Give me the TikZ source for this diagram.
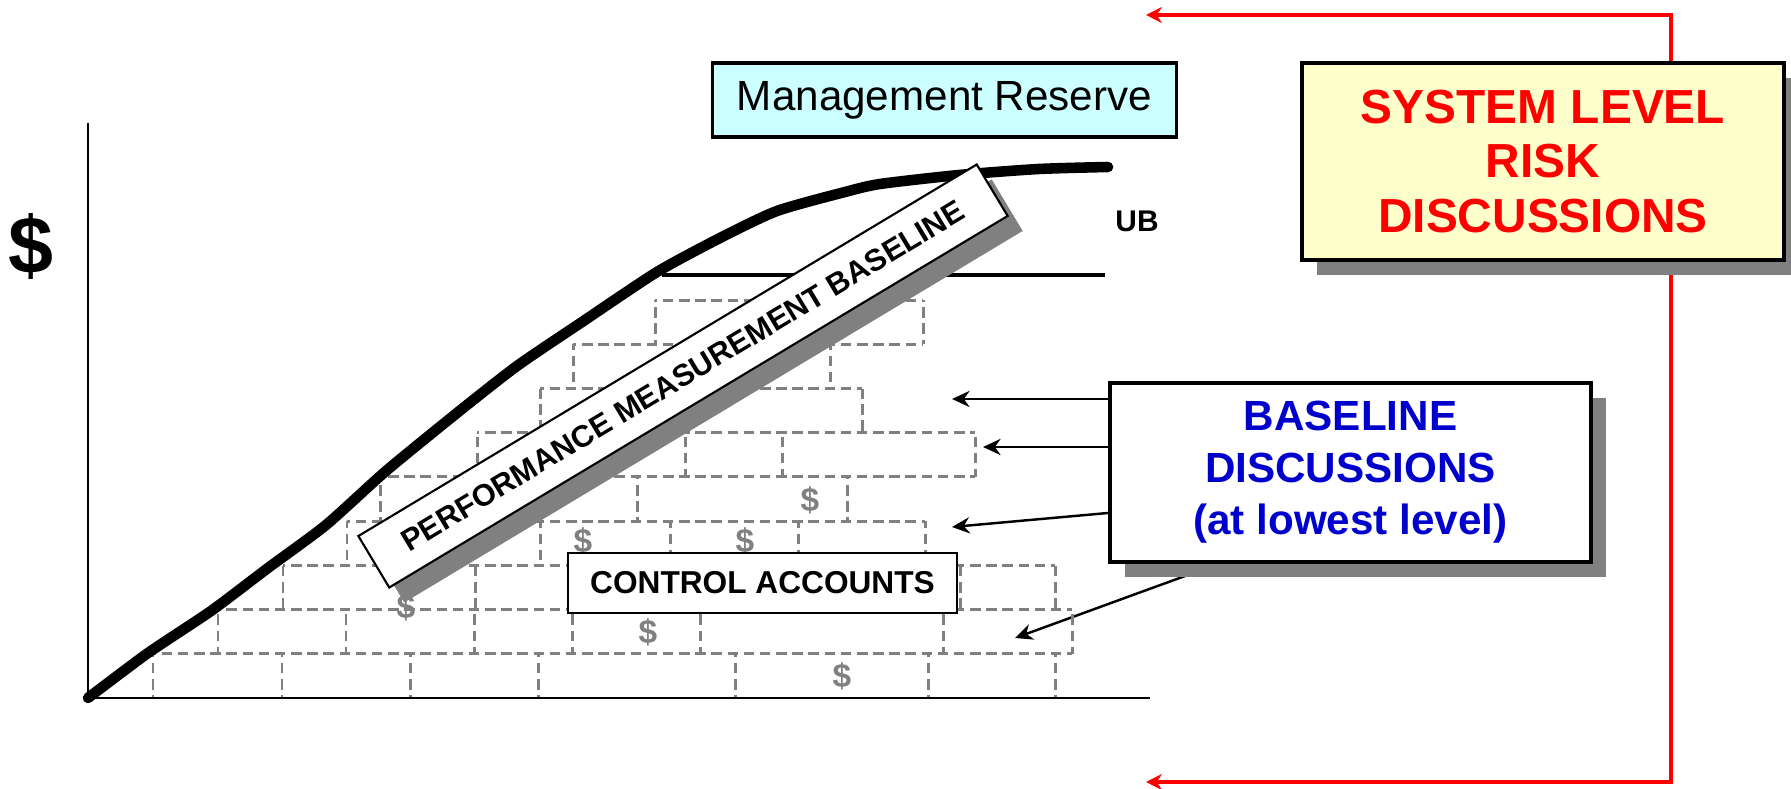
\documentclass[tikz,border=0pt]{standalone}
\usepackage{fontspec}
\setmainfont{Liberation Sans}
\usepackage{tikz}
\usetikzlibrary{arrows.meta,shadows,backgrounds}
\definecolor{riskred}{HTML}{FF0000}
\definecolor{baseblue}{HTML}{0000CC}
\definecolor{mrcyan}{HTML}{CCFFFF}
\definecolor{riskyellow}{HTML}{FFFFCC}
\definecolor{brickgray}{HTML}{808080}
\newcommand{\fsz}[2]{\fontsize{#1}{#2}\selectfont}
% one course of the wall; #1 = course (0 at the bottom), #2 = left/right edges.
% Edges are drawn one way only and the dash phase is tied to the position,
% so that shared edges of neighbouring bricks stay dashed.
\newcommand{\brickrow}[2]{%
  \pgfmathsetmacro{\ytop}{698-44.2*(#1+1)}%
  \pgfmathsetmacro{\ybot}{698-44.2*#1}%
  \pgfmathsetmacro{\phy}{\ytop*0.284528}%
  \foreach \xa/\xb in {#2}{%
    \pgfmathsetmacro{\phx}{\xa*0.284528}%
    \draw[brick, dash phase=\phx pt] (\xa,\ytop) -- (\xb,\ytop) (\xa,\ybot) -- (\xb,\ybot);
    \draw[brick, dash phase=\phy pt] (\xa,\ytop) -- (\xa,\ybot) (\xb,\ytop) -- (\xb,\ybot);}}

\begin{document}
\begin{tikzpicture}[x=0.01cm, y=-0.01cm,
  brick/.style={brickgray, line width=0.85pt, dash pattern=on 3pt off 1.6pt},
  money/.style={text=brickgray, font=\bfseries\fsz{9.5}{11}, inner sep=0pt},
  box/.style={draw=black, fill=white, inner sep=0pt, align=center},
  shadowed/.style={drop shadow={shadow xshift=0.15cm, shadow yshift=-0.15cm,
      fill=black!50, opacity=1}},
  tiparrow/.style={-{Stealth[length=5pt,width=4.6pt]}, line width=0.7pt},
  riskline/.style={riskred, line width=0.9pt, -{Stealth[length=4.5pt,width=4.5pt]}}]
  \useasboundingbox (0,0) rectangle (1791,789);

  % the wall of control accounts
  \brickrow{8}{655/923}
  \brickrow{7}{573/830}
  \brickrow{6}{540/862}
  \brickrow{5}{477/685, 685/782, 782/975}
  \brickrow{4}{380/637, 637/847}
  \brickrow{3}{347/540, 540/670, 670/798, 798/925}
  \brickrow{2}{283/475, 475/960, 960/1055}
  \brickrow{1}{218/346, 346/474, 474/572, 572/700, 700/943, 943/1072}
  \brickrow{0}{153/282, 282/410, 410/538, 538/735, 735/928, 928/1055}
  \foreach \mx/\my [count=\i] in {406/607, 648/632, 842/676, 583/541, 745/541, 810/500}
    \node[money] (m\i) at (\mx,\my) {\$};

  % axes
  \draw[line width=0.7pt] (88,123) -- (88,698) -- (1150,698);
  \node[font=\bfseries\fsz{23}{26}] (dollar) at (31,246) {\$};

  % PMB curve and UB
  \draw[line width=3pt, line cap=round, line join=round]
    plot[smooth, tension=0.4] coordinates {(88,698) (148,653) (211,611) (268,568)
      (326,525) (386,471) (457,413) (517,366) (585,320) (657,272) (720,238)
      (777,211) (845,192) (880,184) (959,175) (1039,169) (1108,167)};
  \draw[line width=1.2pt] (662,275) -- (1105,275);
  \node[font=\bfseries\fsz{8.5}{10}] (ub) at (1137,221) {UB};

  \node[box, shadowed, line width=0.6pt, rotate=31, minimum width=7.21cm,
    minimum height=0.6cm, font=\bfseries\fsz{8.7}{10}] (pmb) at (683,376)
    {PERFORMANCE MEASUREMENT BASELINE};
  \node[box, line width=0.7pt, minimum width=3.89cm, minimum height=0.6cm,
    font=\bfseries\fsz{9}{11}] (ca) at (762.5,583) {CONTROL ACCOUNTS};

  \node[box, fill=mrcyan, line width=0.9pt, minimum width=4.63cm,
    minimum height=0.74cm, font=\fsz{12}{14}] (mr) at (944.5,100) {Management Reserve};
  \node[box, shadowed, fill=riskyellow, line width=1pt, minimum width=4.82cm,
    minimum height=1.97cm, text=riskred, font=\bfseries\fsz{13.6}{15.6}] (risk)
    at (1543,161.5) {SYSTEM LEVEL\\RISK\\DISCUSSIONS};
  \node[box, shadowed, line width=1.1pt, minimum width=4.81cm, minimum height=1.79cm,
    text=baseblue, font=\bfseries\fsz{12}{14.8}] (bld) at (1350.5,472.5)
    {BASELINE\\DISCUSSIONS\\(at lowest level)};

  % pointers
  \coordinate (rx) at (1671,0);
  \coordinate (toptip) at (1146,15);
  \coordinate (bottip) at (1146,782);
  \coordinate (t1) at (952,399);
  \coordinate (t2) at (983,447);
  \coordinate (t3) at (952,527);
  \coordinate (t4) at (1015,638);
  \draw[riskline] (risk.north -| rx) |- (toptip);
  \draw[tiparrow] (bld.west |- t1) -- (t1);
  \draw[tiparrow] (bld.west |- t2) -- (t2);
  \draw[tiparrow] (bld.west |- 0,513) -- (t3);
  \begin{scope}[on background layer]
    \draw[riskline] (risk.south -| rx) |- (bottip);
    \draw[tiparrow] (bld.south -| 1218,0) -- (t4);
  \end{scope}
\end{tikzpicture}
\end{document}
